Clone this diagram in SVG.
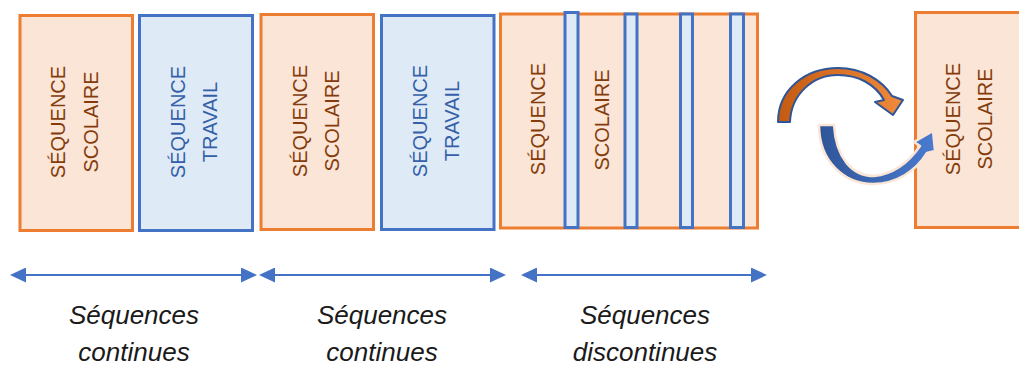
<svg xmlns="http://www.w3.org/2000/svg" width="1019" height="366" viewBox="0 0 1019 366">
<style>
.sc{fill:#FBE5D6;stroke:#ED7D31;stroke-width:3}
.tr{fill:#DEEBF7;stroke:#4472C4;stroke-width:3}
.t{font-family:"Liberation Sans",Arial,sans-serif;font-size:20px;text-anchor:middle}
.to{fill:#843C0C}
.tb{fill:#3560A8}
.lbl{font-family:"Liberation Sans",Arial,sans-serif;font-size:26px;font-style:italic;fill:#1a1a1a;text-anchor:middle}
.ln{stroke:#4472C4;stroke-width:2;fill:none;marker-start:url(#ah);marker-end:url(#ah)}
</style>
<defs>
<marker id="ah" viewBox="0 0 16 15" markerWidth="16" markerHeight="15" markerUnits="userSpaceOnUse" refX="10" refY="7.5" orient="auto-start-reverse">
<path d="M0,0 L16,7.5 L0,15 z" fill="#4472C4"/>
</marker>
<linearGradient id="go" x1="0" y1="0" x2="1" y2="0">
<stop offset="0" stop-color="#C55A11"/>
<stop offset="1" stop-color="#F08a3c"/>
</linearGradient>
<linearGradient id="gb" x1="0" y1="0" x2="1" y2="0">
<stop offset="0" stop-color="#2F5597"/>
<stop offset="1" stop-color="#4a7bd0"/>
</linearGradient>
</defs>
<rect width="1019" height="366" fill="#ffffff"/>

<g id="box1">
<rect class="sc" x="20" y="15.5" width="112.5" height="215"/>
<text class="t to" transform="translate(65,122) rotate(-90)">SÉQUENCE</text>
<text class="t to" transform="translate(97.5,122) rotate(-90)">SCOLAIRE</text>
</g>
<g id="box2">
<rect class="tr" x="139.5" y="15.5" width="113" height="215"/>
<text class="t tb" transform="translate(185,122) rotate(-90)">SÉQUENCE</text>
<text class="t tb" transform="translate(217,122) rotate(-90)">TRAVAIL</text>
</g>
<g id="box3">
<rect class="sc" x="261" y="14.5" width="112.5" height="215"/>
<text class="t to" transform="translate(306.5,121) rotate(-90)">SÉQUENCE</text>
<text class="t to" transform="translate(338.5,121) rotate(-90)">SCOLAIRE</text>
</g>
<g id="box4">
<rect class="tr" x="381.5" y="15.5" width="112.5" height="214"/>
<text class="t tb" transform="translate(427,121) rotate(-90)">SÉQUENCE</text>
<text class="t tb" transform="translate(459,121) rotate(-90)">TRAVAIL</text>
</g>
<g id="box5">
<rect class="sc" x="500.5" y="14" width="257" height="214"/>
<text class="t to" transform="translate(545,119) rotate(-90)">SÉQUENCE</text>
<text class="t to" transform="translate(609,120) rotate(-90)">SCOLAIRE</text>
<rect class="tr" x="565" y="12.5" width="13" height="215"/>
<rect class="tr" x="625" y="14" width="12" height="213.5"/>
<rect class="tr" x="680.5" y="14" width="12" height="213.5"/>
<rect class="tr" x="730.5" y="14" width="13" height="213.5"/>
</g>
<g id="box6">
<rect class="sc" x="915.5" y="12.5" width="120" height="215"/>
<text class="t to" transform="translate(960,119) rotate(-90)">SÉQUENCE</text>
<text class="t to" transform="translate(992,119) rotate(-90)">SCOLAIRE</text>
</g>

<g id="cycle">
<path d="M778,122 C778,90 805,68 838,68 C862,68 882,80 892,96 L903,100 L893,115 L875,102 L884,100 C875,84 858,75 838,75 C812,75 791,95 790,122 Z" fill="url(#go)" stroke="#2F5597" stroke-width="2" stroke-linejoin="round"/>
<path d="M819,125 C819,162 845,184 873,184 C896,184 916,171 927,153 L935,151 L933,131 L914,142 L920,146 C909,162 893,174 874,176 C852,176 836,158 834,125 Z" fill="url(#gb)" stroke="#FBE5D6" stroke-width="2.5" stroke-linejoin="round"/>
</g>

<g id="connectors">
<line class="ln" x1="16" y1="275" x2="251" y2="275"/>
<line class="ln" x1="265" y1="275" x2="500" y2="275"/>
<line class="ln" x1="527" y1="275" x2="761" y2="275"/>
</g>

<g id="labels">
<text class="lbl" x="134" y="324">Séquences</text>
<text class="lbl" x="134" y="361">continues</text>
<text class="lbl" x="382" y="324">Séquences</text>
<text class="lbl" x="382" y="361">continues</text>
<text class="lbl" x="645" y="324">Séquences</text>
<text class="lbl" x="645" y="361">discontinues</text>
</g>
</svg>
